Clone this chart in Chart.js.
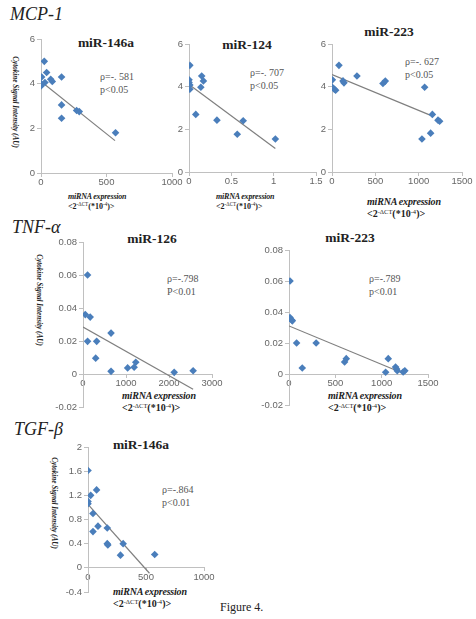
<!DOCTYPE html>
<html>
<head>
<meta charset="utf-8">
<script src="https://cdn.jsdelivr.net/npm/chart.js@4.4.0/dist/chart.umd.min.js"></script>
<style>
  body { margin: 0; background: #fff; width: 476px; height: 619px; position: relative; overflow: hidden; font-family: "Liberation Serif", serif; color: #222; }
  canvas { position: absolute; }
  .grupo { position: absolute; font-style: italic; font-size: 18px; line-height: 18px; }
  .titulo { position: absolute; font-weight: bold; font-size: 13.5px; transform: translate(-50%, -50%); white-space: nowrap; }
  .rho { position: absolute; font-size: 10px; line-height: 13px; color: #555; white-space: nowrap; }
  .xlab { position: absolute; font-weight: bold; font-size: 8px; line-height: 10px; white-space: nowrap; }
  .xlab i { letter-spacing: -0.2px; }
  .xlab sup { font-size: 65%; line-height: 0; vertical-align: 3px; font-weight: normal; }
  .ylab { position: absolute; font-weight: bold; font-style: italic; font-size: 7.2px; transform: translate(-50%, -50%) rotate(90deg); white-space: nowrap; }
  .fig { position: absolute; font-size: 12px; }
</style>
</head>
<body>

<div class="grupo" style="left:10px; top:5px;">MCP-1</div>
<div class="grupo" style="left:12px; top:218px;">TNF-α</div>
<div class="grupo" style="left:14px; top:420px;">TGF-β</div>

<div class="titulo" style="left:106px; top:43px;">miR-146a</div>
<div class="titulo" style="left:247px; top:45px;">miR-124</div>
<div class="titulo" style="left:389px; top:32px;">miR-223</div>
<div class="titulo" style="left:152px; top:239px;">miR-126</div>
<div class="titulo" style="left:350px; top:238px;">miR-223</div>
<div class="titulo" style="left:141px; top:445px;">miR-146a</div>

<div class="rho" style="left:100px; top:70px;">ρ=-. 581<br>p&lt;0.05</div>
<div class="rho" style="left:250px; top:66px;">ρ=-. 707<br>p&lt;0.05</div>
<div class="rho" style="left:405px; top:55px;">ρ=-. 627<br>p&lt;0.05</div>
<div class="rho" style="left:167px; top:272px;">ρ=-.798<br>P&lt;0.01</div>
<div class="rho" style="left:369px; top:272px;">ρ=-.789<br>p&lt;0.01</div>
<div class="rho" style="left:162px; top:483px;">ρ=-.864<br>p&lt;0.01</div>

<div class="ylab" style="left:15px; top:102px;">Cytokine Signal Intensity (AU)</div>
<div class="ylab" style="left:39px; top:300px;">Cytokine Signal Intensity (AU)</div>
<div class="ylab" style="left:54px; top:503px;">Cytokine Signal Intensity (AU)</div>

<div class="xlab" style="left:68px; top:192px;"><i>miRNA expression</i><br>&lt;2<sup>-ΔCT</sup>(*10<sup>-4</sup>)&gt;</div>
<div class="xlab" style="left:216px; top:192px;"><i>miRNA expression</i><br>&lt;2<sup>-ΔCT</sup>(*10<sup>-4</sup>)&gt;</div>
<div class="xlab" style="left:367px; top:196px; font-size:10px; line-height:12px;"><i>miRNA expression</i><br>&lt;2<sup>-ΔCT</sup>(*10<sup>-4</sup>)&gt;</div>
<div class="xlab" style="left:122px; top:390px; font-size:10px; line-height:12px;"><i>miRNA expression</i><br>&lt;2<sup>-ΔCT</sup>(*10<sup>-4</sup>)&gt;</div>
<div class="xlab" style="left:328px; top:390px; font-size:10px; line-height:12px;"><i>miRNA expression</i><br>&lt;2<sup>-ΔCT</sup>(*10<sup>-4</sup>)&gt;</div>
<div class="xlab" style="left:113px; top:586px; font-size:10px; line-height:12px;"><i>miRNA expression</i><br>&lt;2<sup>-ΔCT</sup>(*10<sup>-4</sup>)&gt;</div>

<div class="fig" style="left:220px; top:600px;">Figure 4.</div>

<script>
// MCP-1 / miR-146a
const mcp146aX = [25, 43, 5, 74, 86, 157, 0, 0, 30, 157, 157, 272, 292, 569];
const mcp146aY = [5.0, 4.5, 4.3, 4.2, 4.1, 4.3, 4.0, 3.9, 4.05, 3.05, 2.45, 2.8, 2.75, 1.8];
const mcp146aTrendX = [0, 565];
const mcp146aTrendY = [4.1, 1.45];

// MCP-1 / miR-124
const mcp124X = [0.01, 0, 0, 0.01, 0.01, 0.15, 0.17, 0.14, 0.08, 0.33, 0.64, 0.57, 1.02];
const mcp124Y = [5.0, 4.32, 4.2, 4.08, 3.88, 4.5, 4.27, 3.97, 2.7, 2.43, 2.4, 1.77, 1.55];
const mcp124TrendX = [0, 1.02];
const mcp124TrendY = [4.1, 1.1];

// MCP-1 / miR-223
const mcp223X = [4, 4, 27, 42, 80, 127, 138, 288, 588, 615, 1069, 1038, 1138, 1158, 1223, 1242];
const mcp223Y = [4.32, 3.97, 3.88, 3.83, 5.0, 4.27, 4.18, 4.5, 4.15, 4.26, 3.97, 1.55, 1.82, 2.7, 2.43, 2.38];
const mcp223TrendX = [0, 1160];
const mcp223TrendY = [4.57, 2.62];

// TNF-a / miR-126
const tnf126X = [106, 53, 167, 106, 318, 295, 652, 652, 1038, 1189, 1227, 2121, 2561];
const tnf126Y = [0.060, 0.036, 0.0345, 0.0198, 0.0198, 0.0096, 0.0248, 0.0016, 0.0037, 0.0041, 0.0071, 0.001, 0.002];
const tnf126TrendX = [0, 2560];
const tnf126TrendY = [0.0285, -0.0092];

// TNF-a / miR-223
const tnf223X = [11, 11, 29, 36, 82, 143, 293, 600, 618, 1043, 1071, 1150, 1161, 1168, 1232, 1250];
const tnf223Y = [0.060, 0.0365, 0.0348, 0.0343, 0.020, 0.0039, 0.020, 0.0077, 0.0099, 0.0011, 0.0099, 0.0045, 0.0032, 0.0021, 0.0013, 0.0021];
const tnf223TrendX = [0, 1230];
const tnf223TrendY = [0.031, 0.0005];

// TGF-b / miR-146a
const tgf146aX = [0, 0, 0, 23, 74, 43, 86, 43, 166, 166, 171, 303, 280, 575];
const tgf146aY = [1.61, 1.10, 1.06, 1.2, 1.29, 0.9, 0.69, 0.6, 0.66, 0.40, 0.38, 0.40, 0.21, 0.22];
const tgf146aTrendX = [0, 530];
const tgf146aTrendY = [1.05, -0.09];

const EJE_Y = 30;
const PAD = { left: 2, top: 8, right: 14, bottom: 18 };

function puntos(xs, ys) {
  return xs.map((x, i) => ({ x: x, y: ys[i] }));
}

// sin separador de miles, sin ceros de mas
function etiqueta(v) {
  return String(Number(v.toFixed(4)));
}

// rect = plot area in page pixels: [left, top, right, bottom]
function crearPanel(rect, xs, ys, tx, ty, ejeX, ejeY) {
  const [l, t, r, b] = rect;
  const canvas = document.createElement('canvas');
  const w = (r - l) + EJE_Y + PAD.left + PAD.right;
  const h = (b - t) + PAD.top + PAD.bottom;
  canvas.width = w;
  canvas.height = h;
  canvas.style.left = (l - EJE_Y - PAD.left) + 'px';
  canvas.style.top = (t - PAD.top) + 'px';
  document.body.appendChild(canvas);

  const fuente = { family: '"Liberation Sans", Arial, sans-serif', size: 9.5 };

  new Chart(canvas.getContext('2d'), {
    type: 'scatter',
    data: {
      datasets: [{
        data: puntos(xs, ys),
        pointStyle: 'rectRot',
        pointRadius: 3.8,
        backgroundColor: '#4a7ebb',
        borderColor: '#4a7ebb',
        borderWidth: 0
      }, {
        data: puntos(tx, ty),
        showLine: true,
        pointRadius: 0,
        borderColor: '#7f7f7f',
        borderWidth: 1.2
      }]
    },
    options: {
      responsive: false,
      animation: false,
      devicePixelRatio: 1,
      layout: { padding: PAD },
      plugins: { legend: { display: false }, tooltip: { enabled: false } },
      scales: {
        x: {
          type: 'linear',
          position: { y: 0 },
          min: ejeX[0], max: ejeX[1],
          ticks: { stepSize: ejeX[2], color: '#666', font: fuente, padding: 1, maxRotation: 0, callback: etiqueta },
          grid: { display: true, drawOnChartArea: false, tickLength: 3, color: '#c0c0c0' },
          border: { color: '#c0c0c0' }
        },
        y: {
          min: ejeY[0], max: ejeY[1],
          ticks: { stepSize: ejeY[2], color: '#666', font: fuente, padding: 2, callback: etiqueta },
          grid: { display: true, drawOnChartArea: false, tickLength: 4, color: '#c0c0c0' },
          border: { color: '#c0c0c0' },
          afterFit: s => { s.width = EJE_Y; }
        }
      }
    }
  });
}

crearPanel([41, 39, 172, 173], mcp146aX, mcp146aY, mcp146aTrendX, mcp146aTrendY, [0, 1000, 500], [0, 6, 2]);
crearPanel([189, 44, 316, 172], mcp124X, mcp124Y, mcp124TrendX, mcp124TrendY, [0, 1.5, 0.5], [0, 6, 2]);
crearPanel([332, 44, 462, 172], mcp223X, mcp223Y, mcp223TrendX, mcp223TrendY, [0, 1500, 500], [0, 6, 2]);
crearPanel([83, 242, 212, 407], tnf126X, tnf126Y, tnf126TrendX, tnf126TrendY, [0, 3000, 1000], [-0.02, 0.08, 0.02]);
crearPanel([289, 250, 428, 405], tnf223X, tnf223Y, tnf223TrendX, tnf223TrendY, [0, 1500, 500], [-0.02, 0.08, 0.02]);
crearPanel([88, 447, 204, 592], tgf146aX, tgf146aY, tgf146aTrendX, tgf146aTrendY, [0, 1000, 500], [-0.4, 2, 0.4]);
</script>
</body>
</html>
